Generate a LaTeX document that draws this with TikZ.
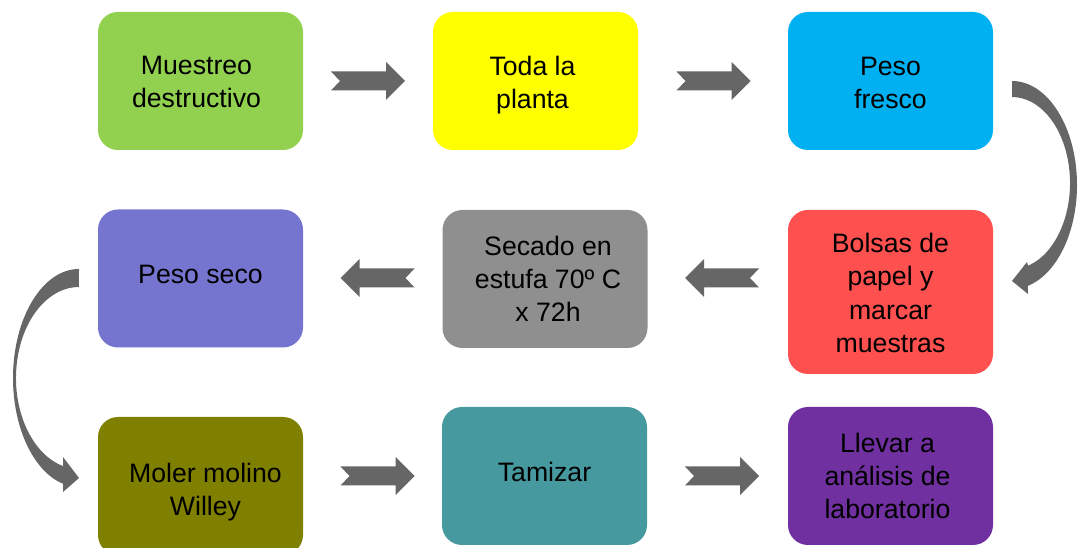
\documentclass[tikz,border=0pt]{standalone}
\usepackage{fontspec}
\setmainfont{Liberation Sans}
\definecolor{cgreen}{HTML}{92D050}
\definecolor{cyellow}{HTML}{FFFF00}
\definecolor{ccyan}{HTML}{00B0F0}
\definecolor{cblue}{HTML}{7575D0}
\definecolor{cgray}{HTML}{8F8F8F}
\definecolor{cred}{HTML}{FF5050}
\definecolor{colive}{HTML}{808000}
\definecolor{cteal}{HTML}{46999F}
\definecolor{cpurple}{HTML}{7030A0}
\definecolor{arrowgray}{HTML}{666666}
\begin{document}
\begin{tikzpicture}[x=0.75pt,y=-0.75pt,
  box/.style={rounded corners=15pt, inner sep=0pt, minimum width=153.75pt,
    minimum height=103.5pt},
  txt/.style={inner sep=0pt, align=center, text=black,
    font=\fontsize{20}{25}\selectfont},
  rarrow/.pic={\fill[arrowgray] (-37,-9.5) -- (18,-9.5) -- (18,-19) -- (37,0)
     -- (18,19) -- (18,9.5) -- (-37,9.5) -- (-28,0) -- cycle;},
  larrow/.pic={\fill[arrowgray] (37,-9.5) -- (-18,-9.5) -- (-18,-19) -- (-37,0)
     -- (-18,19) -- (-18,9.5) -- (37,9.5) -- (28,0) -- cycle;}
]
\useasboundingbox (0,0) rectangle (1078,548);
\clip (0,0) rectangle (1078,548);
% boxes
\node[box, fill=cgreen]  (b1) at (200.5,81) {};
\node[box, fill=cyellow] (b2) at (535.5,81) {};
\node[box, fill=ccyan]   (b3) at (890.5,81) {};
\node[box, fill=cblue]   (b4) at (200.5,278.5) {};
\node[box, fill=cgray]   (b5) at (545,279) {};
\node[box, fill=cred, minimum height=123pt] (b6) at (890.5,292) {};
\node[box, fill=colive]  (b7) at (200.5,486) {};
\node[box, fill=cteal]   (b8) at (544.5,476) {};
\node[box, fill=cpurple] (b9) at (890.5,476) {};
% texts
\node[txt] (t1) at ([shift={(-4,1)}]b1.center) {Muestreo\\destructivo};
\node[txt] (t2) at ([shift={(-3,4)}]b2.center) {Toda la\\planta};
\node[txt] (t3) at ([shift={(0,2)}]b3.center) {Peso\\fresco};
\node[txt] (t4) at ([shift={(0,-4)}]b4.center) {Peso seco};
\node[txt] (t5) at ([shift={(3,0)}]b5.center) {Secado en\\estufa 70º C\\x 72h};
\node[txt] (t6) at ([shift={(0,1)}]b6.center) {Bolsas de\\papel y\\marcar\\muestras};
\node[txt] (t7) at ([shift={(5,6)}]b7.center) {Moler molino\\Willey};
\node[txt] (t8) at ([shift={(0,-4)}]b8.center) {Tamizar};
\node[txt] (t9) at ([shift={(-3,0)}]b9.center) {Llevar a\\análisis de\\laboratorio};
% straight block arrows
\pic at (368,81) {rarrow};
\pic at (713.5,81) {rarrow};
\pic at (722,278) {larrow};
\pic at (377.5,278) {larrow};
\pic at (377.5,476) {rarrow};
\pic at (722,476) {rarrow};
% curved arrow b3 -> b6
\fill[arrowgray] (1012,81) arc[start angle=-90, end angle=76, x radius=65, y radius=104]
  -- (1028,294) -- (1012,281) -- (1027,262) -- (1028,265.7)
  arc[start angle=74, end angle=-90, x radius=58, y radius=86] -- cycle;
% curved arrow b4 -> b7
\fill[arrowgray] (79,269) arc[start angle=270, end angle=104, x radius=66, y radius=109]
  -- (63,492) -- (79,478) -- (63,457) -- (63,466)
  arc[start angle=104.7, end angle=270, x radius=63, y radius=91] -- cycle;
\end{tikzpicture}
\end{document}
